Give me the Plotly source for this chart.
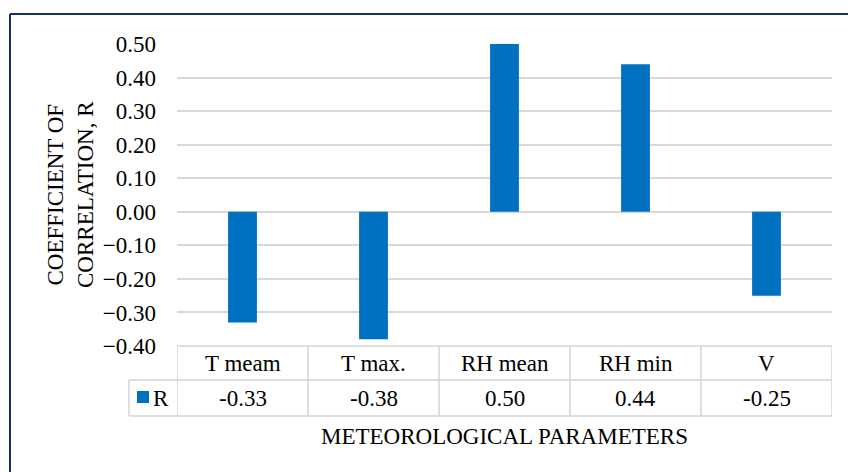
import plotly.graph_objects as go

# Correlation coefficients of meteorological parameters
categories = ["T meam", "T max.", "RH mean", "RH min", "V"]
r_values = [-0.33, -0.38, 0.50, 0.44, -0.25]
series_name = "R"
y_ticks = [-0.4, -0.3, -0.2, -0.1, 0.0, 0.1, 0.2, 0.3, 0.4, 0.5]

W, H = 848, 472
M_L, M_R, M_T, M_B = 177, 16, 44, 126
PLOT_W = W - M_L - M_R
PLOT_H = H - M_T - M_B

BAR_COLOR = "#0070C0"
GRID = "#d9d9d9"
TABLE_LINE = "#d4d4d4"
FRAME = "#17306b"
FONT = "'Liberation Serif', 'Times New Roman', Times, serif"
FS = 23


def px_x(px):
    """Horizontal page pixel -> paper fraction."""
    return (px - M_L) / PLOT_W


def px_y(py):
    """Vertical page pixel -> paper fraction."""
    return (H - M_B - py) / PLOT_H


fig = go.Figure()
fig.add_trace(go.Bar(
    x=categories,
    y=r_values,
    name=series_name,
    width=0.22,
    marker=dict(color=BAR_COLOR, line=dict(width=0)),
    showlegend=False,
))

shapes = []
annotations = []
txt_font = dict(family=FONT, size=FS, color="black")

# data table under the plot
row1_bottom = px_y(380)
row2_bottom = px_y(416)
legend_left = px_x(129)
n = len(categories)

# horizontal rules
shapes.append(dict(type="line", xref="paper", yref="paper", x0=0, x1=1, y0=0, y1=0,
                   line=dict(color=TABLE_LINE, width=1.5)))
shapes.append(dict(type="line", xref="paper", yref="paper", x0=legend_left, x1=1,
                   y0=row1_bottom, y1=row1_bottom, line=dict(color=TABLE_LINE, width=1.5)))
shapes.append(dict(type="line", xref="paper", yref="paper", x0=legend_left, x1=1,
                   y0=row2_bottom, y1=row2_bottom, line=dict(color=TABLE_LINE, width=1.5)))
# vertical rules at category boundaries
for i in range(n + 1):
    shapes.append(dict(type="line", xref="x", yref="paper", x0=i - 0.5, x1=i - 0.5,
                       y0=0, y1=row2_bottom, line=dict(color=TABLE_LINE, width=1.5)))
shapes.append(dict(type="line", xref="paper", yref="paper", x0=legend_left, x1=legend_left,
                   y0=row1_bottom, y1=row2_bottom, line=dict(color=TABLE_LINE, width=1.5)))

# legend key in the table
shapes.append(dict(type="rect", xref="paper", yref="paper",
                   x0=px_x(137), x1=px_x(149), y0=px_y(403), y1=px_y(391),
                   fillcolor=BAR_COLOR, line=dict(width=0)))
annotations.append(dict(text=series_name, xref="paper", yref="paper",
                        x=px_x(161), y=px_y(398), showarrow=False,
                        xanchor="center", yanchor="middle", font=txt_font))

for cat, val in zip(categories, r_values):
    annotations.append(dict(text=cat, xref="x", yref="paper", x=cat, y=px_y(363),
                            showarrow=False, xanchor="center", yanchor="middle",
                            font=txt_font))
    annotations.append(dict(text=f"{val:.2f}", xref="x", yref="paper", x=cat, y=px_y(398),
                            showarrow=False, xanchor="center", yanchor="middle",
                            font=txt_font))

# axis titles
annotations.append(dict(text="METEOROLOGICAL PARAMETERS", xref="paper", yref="paper",
                        x=0.5, y=px_y(436), showarrow=False,
                        xanchor="center", yanchor="middle", font=txt_font))
annotations.append(dict(text="COEFFICIENT OF<br>CORRELATION, R", xref="paper", yref="paper",
                        x=px_x(70), y=px_y(195), showarrow=False, textangle=-90,
                        xanchor="center", yanchor="middle", font=txt_font))

# outer chart frame (top and left edges visible)
shapes.append(dict(type="line", xref="paper", yref="paper",
                   x0=px_x(10), x1=px_x(900), y0=px_y(14), y1=px_y(14),
                   line=dict(color=FRAME, width=2)))
shapes.append(dict(type="line", xref="paper", yref="paper",
                   x0=px_x(10), x1=px_x(10), y0=px_y(14), y1=px_y(520),
                   line=dict(color=FRAME, width=2)))

fig.update_layout(
    width=W, height=H,
    margin=dict(l=M_L, r=M_R, t=M_T, b=M_B, autoexpand=False),
    paper_bgcolor="white", plot_bgcolor="white",
    font=txt_font,
    bargap=0.78,
    shapes=shapes,
    annotations=annotations,
    xaxis=dict(type="category", range=[-0.5, n - 0.5], showticklabels=False,
               showgrid=False, zeroline=False, showline=False, ticks=""),
    yaxis=dict(range=[-0.4, 0.5], tickvals=y_ticks, tickformat=".2f",
               showgrid=True, gridcolor=GRID, gridwidth=1.5, zeroline=False,
               showline=False, ticks="", ticklabelstandoff=20,
               tickfont=txt_font),
)

fig.write_html("out.html")
